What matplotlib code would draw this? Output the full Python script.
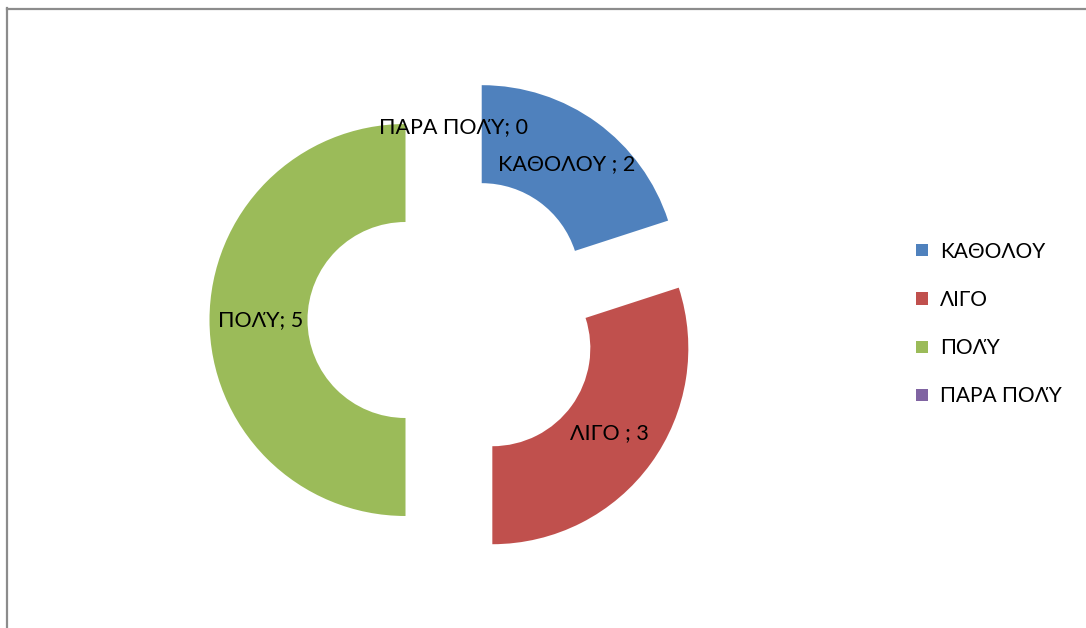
import matplotlib
matplotlib.use("Agg")
import matplotlib.pyplot as plt
from matplotlib.patches import Patch
from matplotlib.lines import Line2D

plt.rcParams['font.family'] = ['Lato', 'DejaVu Sans']

categories = ["ΚΑΘΟΛΟΥ", "ΛΙΓΟ", "ΠΟΛΎ", "ΠΑΡΑ ΠΟΛΎ"]
label_names = ["ΚΑΘΟΛΟΥ ", "ΛΙΓΟ ", "ΠΟΛΎ", "ΠΑΡΑ ΠΟΛΎ"]
values = [2, 3, 5, 0]
colors = ["#4F81BD", "#C0504D", "#9BBB59", "#8064A2"]

W, H = 1086, 628
fig = plt.figure(figsize=(W / 100, H / 100), dpi=100)
ax = fig.add_axes([0, 0, 1, 1])

R = 196
labels = [f"{n}; {v}" for n, v in zip(label_names, values)]
wedges, texts = ax.pie(values, labels=labels, colors=colors, startangle=90,
                       counterclock=False, radius=R, center=(453.5, 308),
                       explode=[48] * len(values), labeldistance=0.74,
                       wedgeprops=dict(width=R / 2, linewidth=0),
                       textprops=dict(fontsize=15.5, color="black"))
for t in texts:
    t.set_horizontalalignment("center")
    t.set_verticalalignment("center")

ax.set_xlim(0, W)
ax.set_ylim(0, H)
ax.set_aspect("equal")
ax.axis("off")

handles = [Patch(facecolor=c, edgecolor="none", label=n) for c, n in zip(colors, categories)]
fig.legend(handles=handles, loc="center left", bbox_to_anchor=(906 / W, 1 - 324 / H),
           frameon=False, fontsize=15, handlelength=0.55, handleheight=0.55,
           handletextpad=0.6, labelspacing=1.36, borderpad=0)

# outer chart border (top and left visible)
fig.add_artist(Line2D([6.5 / W, 6.5 / W], [0, 1 - 8 / H], transform=fig.transFigure,
                      color="#8C8C8C", linewidth=1.6))
fig.add_artist(Line2D([6.5 / W, 1], [1 - 8.5 / H, 1 - 8.5 / H], transform=fig.transFigure,
                      color="#8C8C8C", linewidth=1.6))

fig.savefig("out.png", dpi=100)
